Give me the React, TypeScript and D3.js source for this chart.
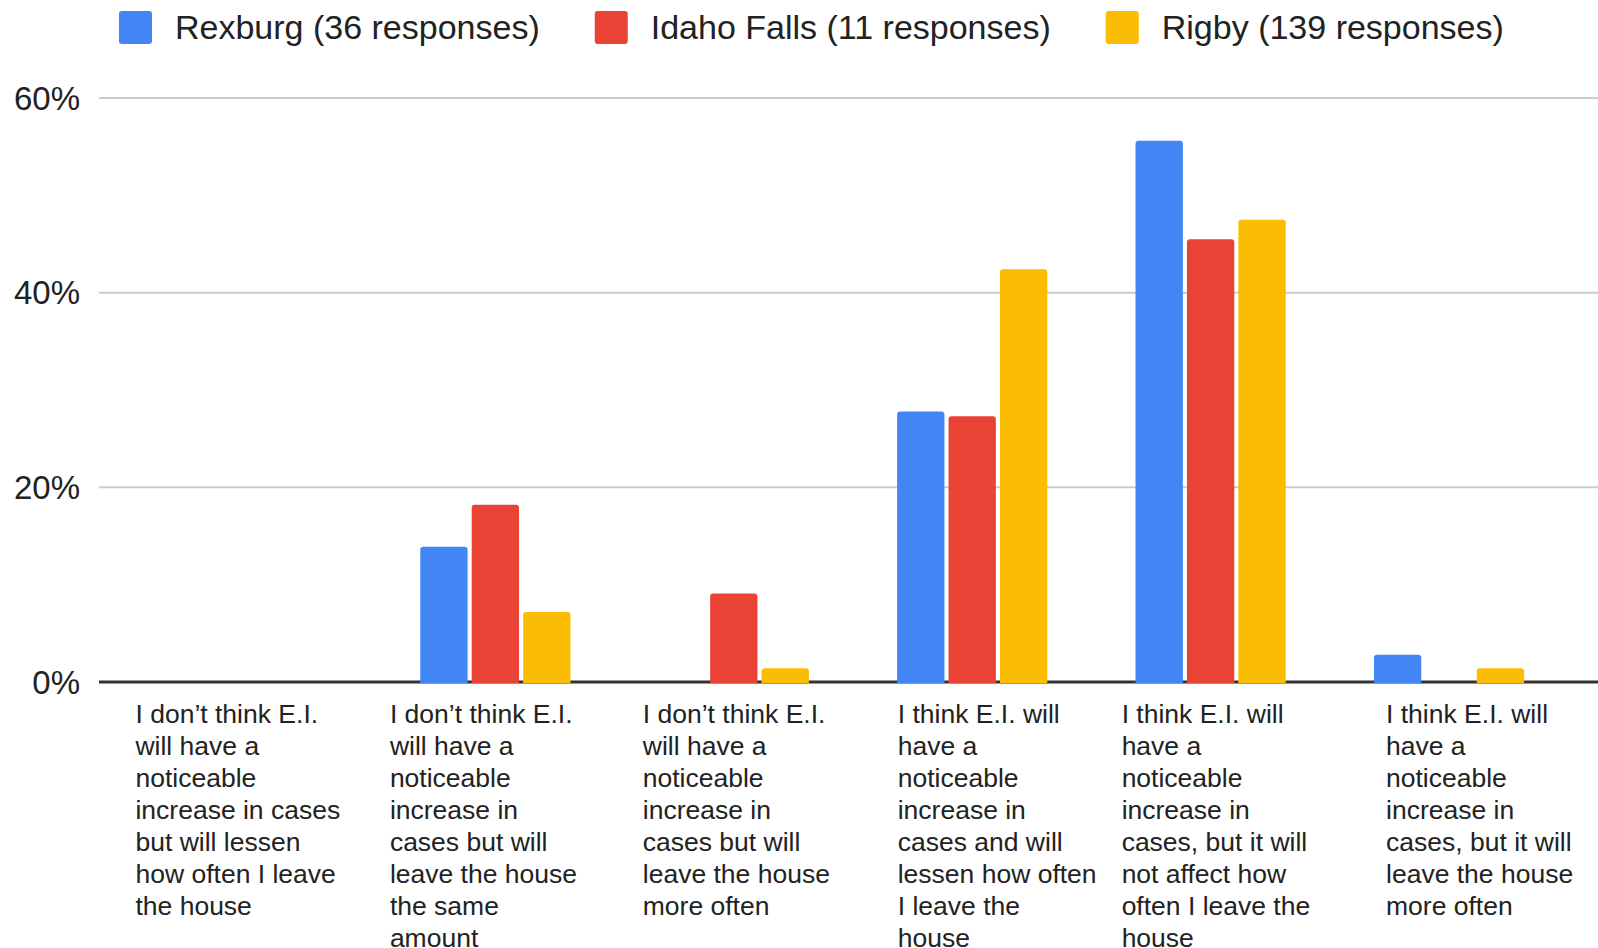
import React, { useEffect, useRef } from 'react';
import * as d3 from 'd3';

// Survey: expected effect of E.I. on behaviour, by town (share of responses, %)
const seriesNames = ['Rexburg (36 responses)', 'Idaho Falls (11 responses)', 'Rigby (139 responses)'];
const seriesColors = ['#4285f4', '#ea4335', '#fbbc04'];

const categoryLines: string[][] = [
  ['I don’t think E.I.', 'will have a', 'noticeable', 'increase in cases', 'but will lessen', 'how often I leave', 'the house'],
  ['I don’t think E.I.', 'will have a', 'noticeable', 'increase in', 'cases but will', 'leave the house', 'the same', 'amount'],
  ['I don’t think E.I.', 'will have a', 'noticeable', 'increase in', 'cases but will', 'leave the house', 'more often'],
  ['I think E.I. will', 'have a', 'noticeable', 'increase in', 'cases and will', 'lessen how often', 'I leave the', 'house'],
  ['I think E.I. will', 'have a', 'noticeable', 'increase in', 'cases, but it will', 'not affect how', 'often I leave the', 'house'],
  ['I think E.I. will', 'have a', 'noticeable', 'increase in', 'cases, but it will', 'leave the house', 'more often'],
];

const rexburg = [0, 13.9, 0, 27.8, 55.6, 2.8];
const idahoFalls = [0, 18.2, 9.1, 27.3, 45.5, 0];
const rigby = [0, 7.2, 1.4, 42.4, 47.5, 1.4];

const yTicks = [0, 20, 40, 60];

const FONT = '"Liberation Sans", Arial, sans-serif';

const topRounded = (x: number, y: number, w: number, h: number, r: number) => {
  const rr = Math.min(r, h, w / 2);
  return `M${x},${y + h}V${y + rr}Q${x},${y} ${x + rr},${y}H${x + w - rr}Q${x + w},${y} ${x + w},${y + rr}V${y + h}Z`;
};

const App: React.FC = () => {
  const svgRef = useRef<SVGSVGElement>(null);

  useEffect(() => {
    document.body.style.margin = '0';
    if (!svgRef.current) return;

    const svg = d3.select(svgRef.current);
    svg.selectAll('*').remove();

    const width = 1598;
    const plotLeft = 99;
    const values = [rexburg, idahoFalls, rigby];

    const y = d3.scaleLinear().domain([0, 60]).range([682, 98]);

    const x = d3.scaleBand<number>()
      .domain(d3.range(categoryLines.length))
      .range([137.75, 1568.25])
      .paddingInner(0.37)
      .paddingOuter(0.185);

    const xs = d3.scaleBand<number>()
      .domain(d3.range(seriesNames.length))
      .range([0, x.bandwidth()])
      .paddingInner(0.08);

    // gridlines
    svg.append('g')
      .selectAll('line')
      .data(yTicks.filter(t => t !== 0))
      .enter()
      .append('line')
      .attr('x1', plotLeft)
      .attr('x2', width)
      .attr('y1', d => y(d))
      .attr('y2', d => y(d))
      .attr('stroke', '#cccccc')
      .attr('stroke-width', 2);

    // tick labels
    svg.append('g')
      .selectAll('text')
      .data(yTicks)
      .enter()
      .append('text')
      .attr('x', 80)
      .attr('y', d => y(d))
      .attr('dy', '0.35em')
      .attr('text-anchor', 'end')
      .attr('font-family', FONT)
      .attr('font-size', 33)
      .attr('fill', '#222')
      .text(d => `${d}%`);

    // baseline
    svg.append('line')
      .attr('x1', plotLeft)
      .attr('x2', width)
      .attr('y1', y(0))
      .attr('y2', y(0))
      .attr('stroke', '#333333')
      .attr('stroke-width', 3);

    // bars
    const bars = svg.append('g');
    values.forEach((series, s) => {
      series.forEach((v, i) => {
        if (!v) return;
        const bx = (x(i) || 0) + (xs(s) || 0);
        const top = y(v);
        bars.append('path')
          .attr('d', topRounded(bx, top, xs.bandwidth(), y(0) + 1 - top, 3))
          .attr('fill', seriesColors[s]);
      });
    });

    // category labels, left aligned blocks
    const labelOffsets = [-121.5, -105.5, -91, -74.5, -89, -63];
    const labels = svg.append('g')
      .attr('font-family', FONT)
      .attr('font-size', 26.5)
      .attr('fill', '#222');
    categoryLines.forEach((lines, i) => {
      const lx = (x(i) || 0) + x.bandwidth() / 2 + labelOffsets[i];
      const t = labels.append('text').attr('x', lx).attr('y', 723);
      lines.forEach((ln, k) => {
        t.append('tspan')
          .attr('x', lx)
          .attr('y', 723 + k * 32)
          .text(ln);
      });
    });

    // legend
    const legend = svg.append('g');
    let cursor = 119;
    seriesNames.forEach((name, s) => {
      legend.append('rect')
        .attr('x', cursor)
        .attr('y', 11)
        .attr('width', 33)
        .attr('height', 33)
        .attr('rx', 3)
        .attr('fill', seriesColors[s]);
      const txt = legend.append('text')
        .attr('x', cursor + 56)
        .attr('y', 27.5)
        .attr('dy', '0.35em')
        .attr('font-family', FONT)
        .attr('font-size', 34)
        .attr('fill', '#222')
        .text(name);
      const w = (txt.node() as SVGTextElement).getComputedTextLength();
      cursor += 56 + w + 55;
    });
  }, []);

  return (
    <svg ref={svgRef} width={1598} height={948} style={{ display: 'block', background: '#fff' }} />
  );
};

export default App;
